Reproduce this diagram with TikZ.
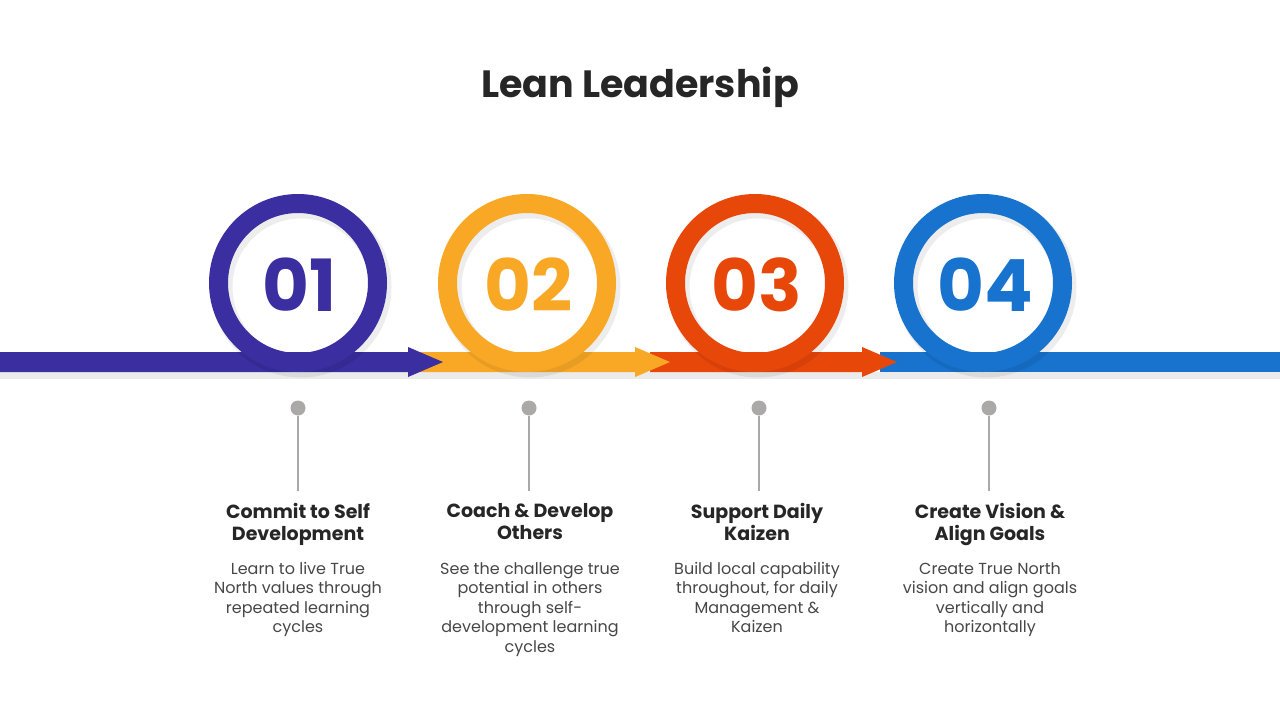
\documentclass[tikz,border=0pt]{standalone}
\usepackage{fontspec}
\setmainfont{Poppins}
\usetikzlibrary{positioning}
\definecolor{LeanPurple}{HTML}{3A2EA0}
\definecolor{LeanOrange}{HTML}{F9A826}
\definecolor{LeanRed}{HTML}{E8470A}
\definecolor{LeanBlue}{HTML}{1773CD}
\definecolor{PinGray}{HTML}{ABA8A8}
\definecolor{TextDark}{HTML}{262626}

\begin{document}
\begin{tikzpicture}[x=1pt, y=-1pt,
    ring/.style={circle, line width=19pt, minimum size=159pt, inner sep=0pt},
    ringshade/.style={circle, draw=black, line width=22pt, minimum size=159pt,
        inner sep=0pt, opacity=0.07},
    num/.style={font=\bfseries\fontsize{72}{72}\selectfont},
    pindot/.style={circle, fill=PinGray, minimum size=15pt, inner sep=0pt},
    pinline/.style={PinGray, line width=2.5pt},
    head/.style={font=\bfseries\fontsize{19}{22}\selectfont, text=TextDark,
        align=center, inner sep=0pt},
    body/.style={font=\fontsize{16}{19.5}\selectfont, text=TextDark!85,
        align=center, inner sep=0pt},
]
\useasboundingbox[fill=white] (0,0) rectangle (1280,720);

\node[font=\bfseries\fontsize{38}{42}\selectfont, text=TextDark] (title)
    at (640,87) {Lean Leadership};

% bar with arrow heads, last segment first
\fill[black, opacity=0.08] (0,372) rectangle (1280,379);
\fill[LeanBlue] (880,352) rectangle (1280,372);
\foreach \s/\b/\col in {650/862/LeanRed, 420/635/LeanOrange, 0/408/LeanPurple}
  \fill[\col] (\s,352) -- (\b,352) -- (\b,347) -- (\b+35,362) -- (\b,377)
      -- (\b,372) -- (\s,372) -- cycle;

% rings
\foreach \i/\x/\col in {1/298/LeanPurple, 2/527/LeanOrange, 3/755/LeanRed, 4/983/LeanBlue} {
  \node[ringshade] at (\x+3,287) {};
  \node[ring, draw=\col] (ring\i) at (\x,283) {};
  \node[num, text=\col] (num\i) at (\x+2,285) {0\i};
}

% pins
\foreach \i/\x in {1/298, 2/529, 3/759, 4/989} {
  \node[pindot] (dot\i) at (\x,408) {};
  \coordinate (end\i) at (\x,491);
  \draw[pinline] (dot\i) -- (end\i);
}

\node[head, below=12pt of end1] (head1) {Commit to Self\\Development};
\node[body, below=71pt of end1] (body1)
    {Learn to live True\\North values through\\repeated learning\\cycles};

\node[head, below=12pt of end2, xshift=1pt] (head2) {Coach \& Develop\\Others};
\node[body, below=71pt of end2, xshift=1pt] (body2)
    {See the challenge true\\potential in others\\through self-\\development learning\\cycles};

\node[head, below=12pt of end3, xshift=-2pt] (head3) {Support Daily\\Kaizen};
\node[body, below=71pt of end3, xshift=-2pt] (body3)
    {Build local capability\\throughout, for daily\\Management \&\\Kaizen};

\node[head, below=12pt of end4, xshift=1pt] (head4) {Create Vision \&\\Align Goals};
\node[body, below=71pt of end4, xshift=1pt] (body4)
    {Create True North\\vision and align goals\\vertically and\\horizontally};

\end{tikzpicture}
\end{document}
